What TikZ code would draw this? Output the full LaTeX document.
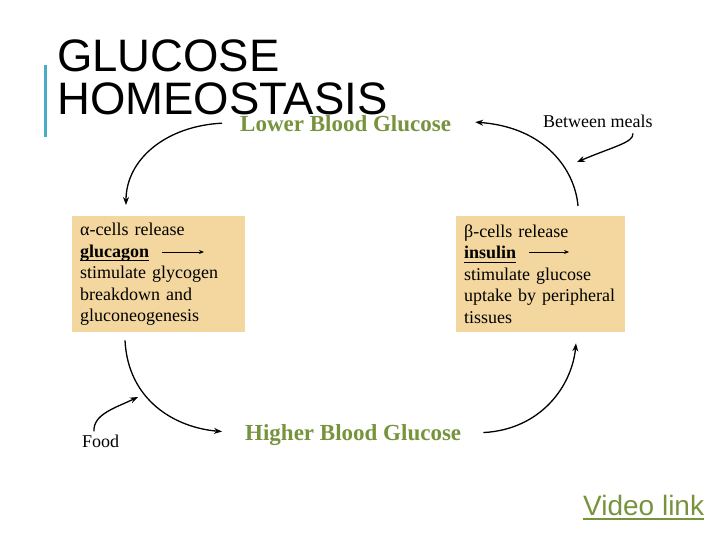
\documentclass[tikz,border=0pt]{standalone}
\usepackage{fontspec}
\setmainfont{Liberation Serif}
\newfontfamily\headfont{Liberation Sans}
\usepackage{xcolor}
\usetikzlibrary{arrows.meta,positioning,calc}
\definecolor{xgreen}{HTML}{77933C}
\definecolor{xtan}{HTML}{F3D79F}
\definecolor{xaqua}{HTML}{4BACC6}
% underline with given drop and thickness
\newcommand{\heavyul}[3]{\leavevmode\setbox0\hbox{#3}\rlap{\rule[-#1]{\wd0}{#2}}\box0}

\begin{document}
\begin{tikzpicture}[
    x=1pt, y=-1pt,
    >=Stealth,
    cell/.style={rectangle, fill=xtan, anchor=north west, inner xsep=8pt, inner ysep=0pt, minimum height=116pt, align=left, font=\fontsize{18}{21.5}\selectfont},
    note/.style={inner sep=0pt, anchor=base west, font=\fontsize{18}{21.5}\selectfont},
    bgtext/.style={inner sep=0pt, anchor=base west, text=xgreen, font=\fontsize{23}{27}\selectfont\bfseries},
    headtext/.style={inner sep=0pt, anchor=base west, font=\headfont\fontsize{45.5}{46}\selectfont},
    cyc/.style={-{Stealth[length=8pt,width=6pt]}, line width=1.3pt},
    inarr/.style={-{Stealth[length=5pt,width=4pt]}, line width=0.9pt},
]
\useasboundingbox (0,0) rectangle (720,540);

% Title
\draw[xaqua, line width=3pt] (45,65) -- (45,137);
\node[headtext] (title1) at (57,72) {GLUCOSE};
\node[headtext] (title2) at (57,115) {HOMEOSTASIS};

% Glucose levels
\node[bgtext] (lower) at (240,132) {Lower Blood Glucose};
\node[bgtext] (higher) at (245,440) {Higher Blood Glucose};

% Hormone boxes
\node[cell, text width=157pt] (alphabox) at (72,216) {α-cells release\\\heavyul{4pt}{1.2pt}{\textbf{glucagon}}\\stimulate glycogen\\breakdown and\\gluconeogenesis};
\node[cell, text width=153pt] (betabox) at (456,216) {β-cells release\\\heavyul{4pt}{1.2pt}{\textbf{insulin}}\\stimulate glucose\\uptake by peripheral\\tissues};

% Triggers
\node[note] (meals) at (543,128) {Between meals};
\node[note] (food) at (82,447) {Food};

% Link
\node[inner sep=0pt, anchor=base west, text=xgreen, font=\headfont\fontsize{28}{32}\selectfont] (video) at (583,515) {\heavyul{4.5pt}{1.8pt}{Video link}};

% Cycle arrows
\draw[cyc] ([xshift=-18pt,yshift=1pt]lower.west) .. controls +(-57,3) and +(0,-45) .. ([xshift=54pt,yshift=11pt]alphabox.north west);
\draw[cyc] ([xshift=53pt,yshift=-8pt]alphabox.south west) .. controls +(3,60) and +(-47,-4) .. ([xshift=-23pt,yshift=3pt]higher.west);
\draw[cyc] ([xshift=22pt,yshift=2pt]higher.east) .. controls +(58,-3) and +(-4,42) .. ([xshift=120pt,yshift=-11pt]betabox.south west);
\draw[cyc] ([xshift=122pt,yshift=10pt]betabox.north west) .. controls +(-3,-36) and +(70,5) .. ([xshift=24pt,yshift=2pt]lower.east);

% Trigger arrows
\coordinate (mealsend) at (577,162);
\coordinate (foodend) at (138,397);
\draw[cyc] ([xshift=-20pt,yshift=-5pt]meals.south east) .. controls +(1,9) and +(38,-16) .. (mealsend);
\draw[cyc] ([xshift=12pt,yshift=3pt]food.north west) .. controls +(-1,-17) and +(-23,11) .. (foodend);

% Release arrows
\draw[inarr] ([xshift=90pt,yshift=-36pt]alphabox.north west) -- ++(42,0);
\draw[inarr] ([xshift=73pt,yshift=-36pt]betabox.north west) -- ++(40,0);

\end{tikzpicture}
\end{document}
